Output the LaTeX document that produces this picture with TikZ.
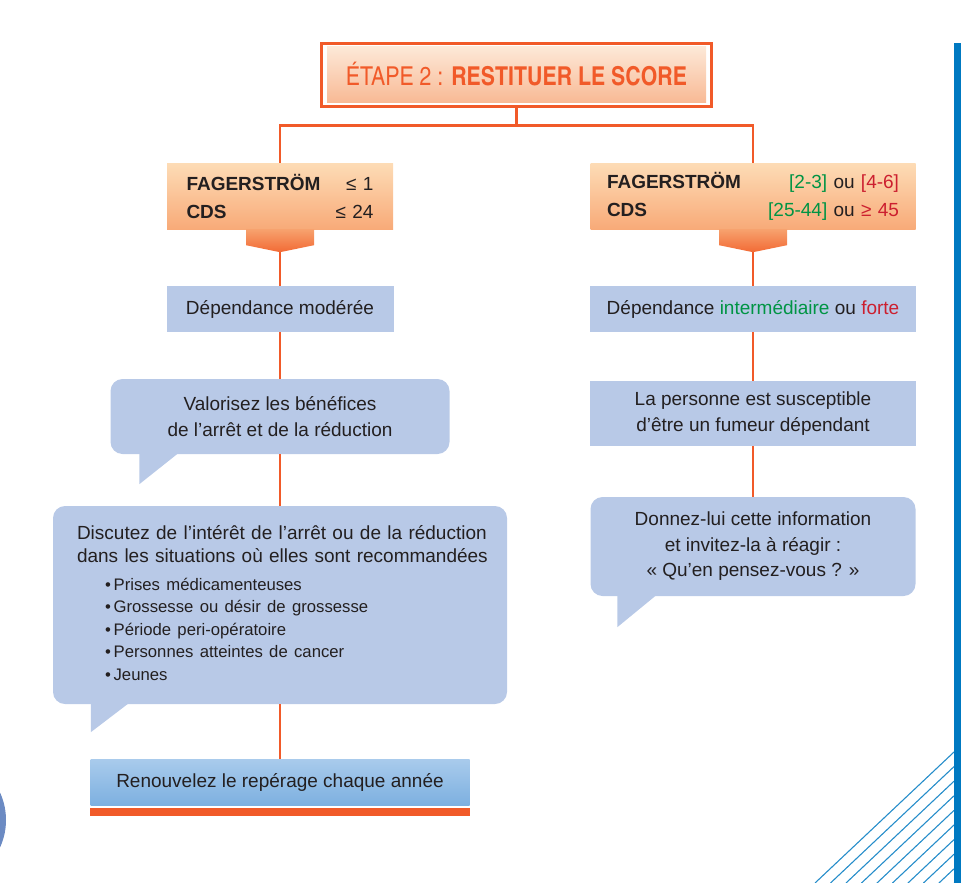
\documentclass[tikz,border=0pt]{standalone}
\usepackage{fontspec}
\setmainfont{Liberation Sans}
\newfontfamily\titlefont{texgyreheroscn}[Extension=.otf,UprightFont=*-regular,BoldFont=*-bold]

\definecolor{lineorange}{RGB}{241,90,41}
\definecolor{textgray}{RGB}{35,31,32}
\definecolor{boxblue}{RGB}{184,201,231}
\definecolor{midgreen}{RGB}{0,148,68}
\definecolor{darkred}{RGB}{204,31,47}
\definecolor{titletop}{RGB}{253,235,219}
\definecolor{titlebot}{RGB}{248,182,144}
\definecolor{peachtop}{RGB}{253,220,182}
\definecolor{peachbot}{RGB}{248,170,120}
\definecolor{tabtop}{RGB}{247,162,110}
\definecolor{tabbot}{RGB}{242,106,53}
\definecolor{renewtop}{RGB}{169,203,236}
\definecolor{renewbot}{RGB}{125,176,224}
\definecolor{decoblue}{RGB}{0,121,193}
\definecolor{circleleft}{RGB}{40,105,185}
\definecolor{circleright}{RGB}{110,140,195}

\begin{document}
\begin{tikzpicture}[x=1pt, y=-1pt,
    link/.style={draw=lineorange, line width=2.5pt},
    plain/.style={fill=boxblue, text=textgray, align=center, inner sep=0pt,
        font=\fontsize{19}{25.5}\selectfont},
    bubble/.style={plain, rounded corners=12pt},
    score/.style={top color=peachtop, bottom color=peachbot, text=textgray,
        inner sep=0pt, align=left, font=\fontsize{19}{28}\selectfont},
    tab/.style={top color=tabtop, bottom color=tabbot},
    tail/.style={fill=boxblue}]
    \useasboundingbox (0,0) rectangle (969,883);

    % Décor : cercle, hachures et barre bleue
    \shade[left color=circleleft, right color=circleright] (-60,820) circle (66pt);
    \foreach \k in {0,...,9}
        \draw[decoblue!85!white, line width=1.1pt] (954,752+14.6*\k) -- ++({-1.061*(131-14.6*\k)},{131-14.6*\k});
    \fill[decoblue] (954,43) rectangle (961,883);

    % Titre
    \node[draw=lineorange, line width=3pt, minimum width=390pt, minimum height=63pt,
        text=lineorange, font=\titlefont\fontsize{26}{30}\selectfont,
        path picture={\shade[top color=titletop, bottom color=titlebot]
            ([shift={(5.5pt,-3.5pt)}]path picture bounding box.north west) rectangle
            ([shift={(-5.5pt,4.5pt)}]path picture bounding box.south east);}]
        (title) at (516.5,75) {\raisebox{2pt}{ÉTAPE 2 : \textbf{RESTITUER LE SCORE}}};

    % Scores
    \node[score, minimum width=226pt, minimum height=66pt, text width=187pt] (scoreL) at (280,196)
        {\textbf{FAGERSTRÖM}\hfill ≤ 1\\ \textbf{CDS}\hfill ≤ 24};
    \node[score, minimum width=325pt, minimum height=66pt, text width=292pt] (scoreR) at (753,196)
        {\textbf{FAGERSTRÖM}\hfill \textcolor{midgreen}{[2-3]} ou \textcolor{darkred}{[4-6]}\\
         \textbf{CDS}\hfill \textcolor{midgreen}{[25-44]} ou \textcolor{darkred}{≥ 45}};
    \shade[tab] ([xshift=-34pt]scoreL.south) -- ([xshift=34pt]scoreL.south) -- ++(0,16)
        -- ([yshift=-23pt]scoreL.south) coordinate (tipL) -- ([shift={(-34pt,-16pt)}]scoreL.south) -- cycle;
    \shade[tab] ([xshift=-34pt]scoreR.south) -- ([xshift=34pt]scoreR.south) -- ++(0,16)
        -- ([yshift=-23pt]scoreR.south) coordinate (tipR) -- ([shift={(-34pt,-16pt)}]scoreR.south) -- cycle;

    % Branche gauche
    \node[plain, minimum width=227pt, minimum height=46pt] (depL) at (280,309) {Dépendance modérée};
    \node[bubble, minimum width=339pt, minimum height=75pt] (valL) at (280,416.5)
        {Valorisez les bénéfices\\de l’arrêt et de la réduction};
    \node[bubble, minimum width=454pt, minimum height=198pt, text width=416pt, inner xsep=19pt, align=left]
        (discL) at (280,605)
        {{\fontsize{19}{23}\selectfont\leftskip=5pt Discutez de l’intérêt de l’arrêt ou de la réduction\\
          dans les situations où elles sont recommandées\par}\vspace{5pt}
         {\fontsize{16.7}{22.5}\selectfont\leftskip=33pt
          •\,Prises médicamenteuses\\
          •\,Grossesse ou désir de grossesse\\
          •\,Période peri-opératoire\\
          •\,Personnes atteintes de cancer\\
          •\,Jeunes\par}\vspace{4pt}};
    \node[text=textgray, inner sep=0pt, minimum width=379pt, minimum height=46pt,
        top color=renewtop, bottom color=renewbot, font=\fontsize{19}{25.5}\selectfont]
        (renew) at (280,782) {Renouvelez le repérage chaque année};
    \fill[lineorange] ([yshift=-3pt]renew.south west) rectangle ([yshift=-11pt]renew.south east);

    % Branche droite
    \node[plain, minimum width=326pt, minimum height=46pt] (depR) at (753,309)
        {Dépendance \textcolor{midgreen}{intermédiaire} ou \textcolor{darkred}{forte}};
    \node[plain, minimum width=326pt, minimum height=65pt] (persR) at (753,413.5)
        {La personne est susceptible\\d’être un fumeur dépendant};
    \node[bubble, minimum width=325pt, minimum height=99pt] (infoR) at (753,546.5)
        {Donnez-lui cette information\\et invitez-la à réagir :\\« Qu’en pensez-vous ? »};

    % Queues des bulles
    \fill[tail] ([shift={(29pt,1pt)}]valL.south west) -- ++(0,31) -- ++(39,-31) -- cycle;
    \fill[tail] ([shift={(38pt,1pt)}]discL.south west) -- ++(0,29) -- ++(38,-29) -- cycle;
    \fill[tail] ([shift={(27pt,1pt)}]infoR.south west) -- ++(0,32) -- ++(39,-32) -- cycle;

    % Liaisons
    \draw[link] (title.south) -- ++(0,17.5) coordinate (split);
    \draw[link] (scoreL.north) |- (split) -| (scoreR.north);
    \draw[link] (tipL) -- (depL.north);
    \draw[link] (depL.south) -- (valL.north);
    \draw[link] (valL.south) -- (discL.north);
    \draw[link] (discL.south) -- (renew.north);
    \draw[link] (tipR) -- (depR.north);
    \draw[link] (depR.south) -- (persR.north);
    \draw[link] (persR.south) -- (infoR.north);
\end{tikzpicture}
\end{document}
